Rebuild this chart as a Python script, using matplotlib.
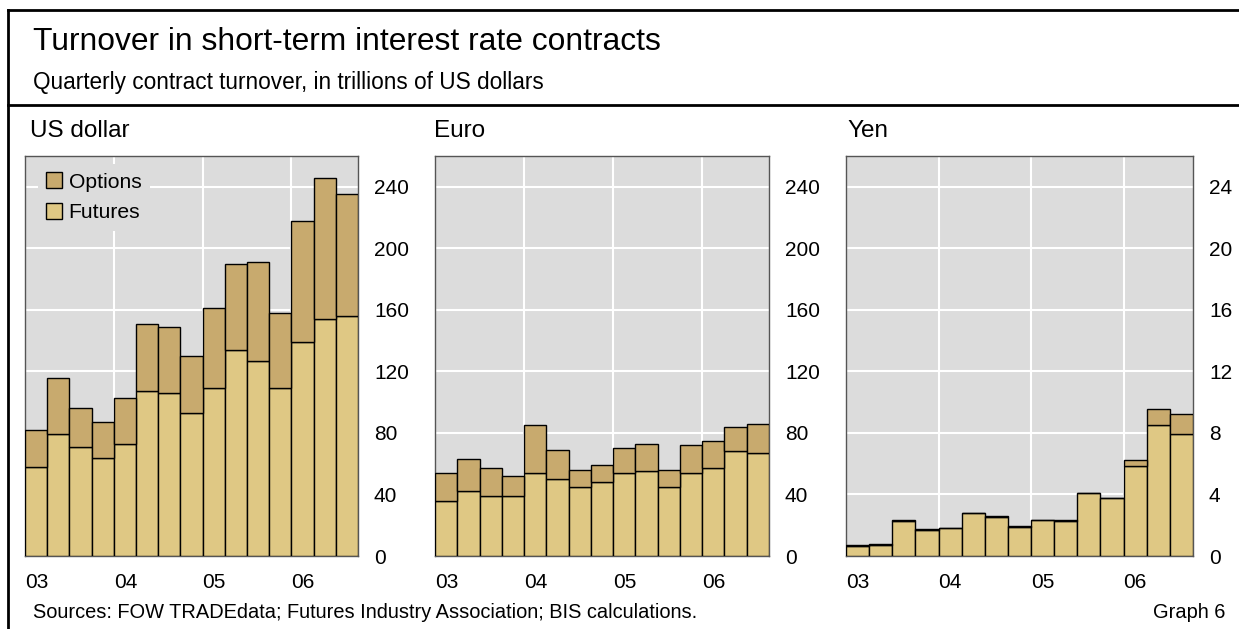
import numpy as np
import matplotlib
matplotlib.use('Agg')
import matplotlib.pyplot as plt
from matplotlib.lines import Line2D

plt.rcParams['font.family'] = ['Liberation Sans', 'DejaVu Sans']

# quarters 2003Q1 .. 2006Q3
quarters = ['03Q1', '03Q2', '03Q3', '03Q4', '04Q1', '04Q2', '04Q3', '04Q4',
            '05Q1', '05Q2', '05Q3', '05Q4', '06Q1', '06Q2', '06Q3']
year_labels = ['03', '04', '05', '06']

usd_futures = [58, 79, 71, 64, 73, 107, 106, 93, 109, 134, 127, 109, 139, 154, 156]
usd_options = [24, 37, 25, 23, 30, 44, 43, 37, 52, 56, 64, 49, 79, 92, 79]

eur_futures = [36, 42, 39, 39, 54, 50, 45, 48, 54, 55, 45, 54, 57, 68, 67]
eur_options = [18, 21, 18, 13, 31, 19, 11, 11, 16, 18, 11, 18, 18, 16, 19]

yen_futures = [0.67, 0.74, 2.30, 1.71, 1.82, 2.79, 2.55, 1.90, 2.34, 2.30, 4.08, 3.75, 5.82, 8.54, 7.94]
yen_options = [0.02, 0.02, 0.02, 0.02, 0.02, 0.02, 0.02, 0.02, 0.02, 0.02, 0.03, 0.04, 0.45, 1.04, 1.30]

c_opt = '#C8AA6E'
c_fut = '#DFC884'
bg = '#DCDCDC'

W, H = 1239, 629
fig = plt.figure(figsize=(W / 100, H / 100), dpi=100)

def box(x0, y0, x1, y1):
    return [x0 / W, 1 - y1 / H, (x1 - x0) / W, (y1 - y0) / H]

panels = [
    ('US dollar', 30, usd_futures, usd_options, box(25, 156, 358, 556), 260, 40),
    ('Euro', 434, eur_futures, eur_options, box(435, 156, 769, 556), 260, 40),
    ('Yen', 847, yen_futures, yen_options, box(846, 156, 1193, 556), 26, 4),
]

x = np.arange(len(quarters))
for i, (name, tx, fut, opt, rect, ymax, step) in enumerate(panels):
    ax = fig.add_axes(rect)
    ax.set_facecolor(bg)
    ax.bar(x, fut, width=1, color=c_fut, edgecolor='black', linewidth=1, label='Futures', zorder=3)
    ax.bar(x, opt, width=1, bottom=fut, color=c_opt, edgecolor='black', linewidth=1, label='Options', zorder=3)
    ax.set_xlim(-0.5, len(quarters) - 0.5)
    ax.set_ylim(0, ymax)
    ax.set_yticks(np.arange(0, ymax, step))
    ax.yaxis.tick_right()
    ax.tick_params(axis='y', length=0, pad=11.5, labelsize=15)
    ax.set_xticks([-0.5, 3.5, 7.5, 11.5])
    ax.set_xticklabels(year_labels, ha='left')
    ax.tick_params(axis='x', length=0, pad=12, labelsize=15)
    ax.grid(True, color='white', linewidth=1.5, zorder=0)
    for s in ax.spines.values():
        s.set_color('#555555')
        s.set_linewidth(1)
    fig.text(tx / W, 1 - 131 / H, name, fontsize=17.5, va='center', ha='left')
    if i == 0:
        h, l = ax.get_legend_handles_labels()
        leg = ax.legend(h[::-1], l[::-1], loc='upper left', fontsize=15.2,
                        bbox_to_anchor=(-0.018, 1.0275),
                        frameon=True, facecolor=bg, edgecolor='none', framealpha=1,
                        handlelength=0.75, handleheight=0.75, handletextpad=0.3,
                        borderaxespad=0.9, labelspacing=0.55, borderpad=0.4)

fig.text(33 / W, 1 - 42 / H, 'Turnover in short-term interest rate contracts',
         fontsize=22.9, va='center', ha='left')
fig.text(33 / W, 1 - 83 / H, 'Quarterly contract turnover, in trillions of US dollars',
         fontsize=16.3, va='center', ha='left')
fig.text(33 / W, 1 - 612 / H, 'Sources: FOW TRADEdata; Futures Industry Association; BIS calculations.',
         fontsize=14.4, va='center', ha='left')
fig.text(1225 / W, 1 - 612 / H, 'Graph 6', fontsize=14.4, va='center', ha='right')

# frame lines
fig.add_artist(Line2D([8 / W, 1], [1 - 10 / H, 1 - 10 / H], color='black', linewidth=2))
fig.add_artist(Line2D([8 / W, 1], [1 - 105 / H, 1 - 105 / H], color='black', linewidth=2))
fig.add_artist(Line2D([8 / W, 8 / W], [1 - 10 / H, 0], color='black', linewidth=2))

fig.savefig('out.png', dpi=100)
